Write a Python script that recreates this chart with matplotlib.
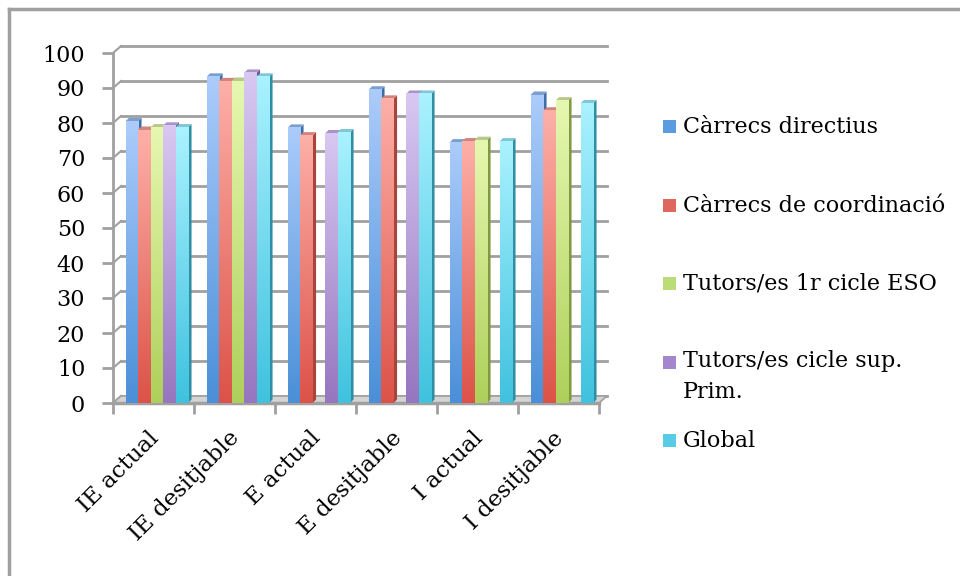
import numpy as np
import matplotlib
matplotlib.use("Agg")
import matplotlib.pyplot as plt
from matplotlib.colors import LinearSegmentedColormap
from matplotlib.patches import Polygon, Rectangle
from matplotlib.lines import Line2D
import matplotlib.transforms as mtransforms

plt.rcParams['font.family'] = ['DejaVu Serif']

categories = ["IE actual", "IE desitjable", "E actual", "E desitjable", "I actual", "I desitjable"]
series_names = ["Càrrecs directius", "Càrrecs de coordinació", "Tutors/es 1r cicle ESO",
                "Tutors/es cicle sup.\nPrim.", "Global"]

carrecs_directius = [80.5, 93.2, 78.6, 89.5, 74.4, 88.0]
carrecs_coordinacio = [78.0, 91.9, 76.4, 86.9, 74.7, 83.5]
tutors_eso = [78.7, 92.0, np.nan, np.nan, 75.1, 86.4]
tutors_primaria = [79.2, 94.3, 77.0, 88.3, np.nan, np.nan]
global_vals = [78.7, 93.2, 77.3, 88.3, 74.7, 85.6]

series_values = [carrecs_directius, carrecs_coordinacio, tutors_eso, tutors_primaria, global_vals]

# (light top, dark bottom, top face, side face, legend swatch)
palette = [
    ("#acccfb", "#4a8fd8", "#7c9fd0", "#3f6ea6", "#5b9be0"),
    ("#fdb0a8", "#dc5248", "#d2847c", "#a8443c", "#e0675e"),
    ("#e6f8b0", "#aed05a", "#b8c98a", "#7f9a40", "#bcdc78"),
    ("#d8c8f2", "#9676bf", "#a894c8", "#6e5592", "#a486cc"),
    ("#aaf2ff", "#3fc2de", "#80c6d4", "#2f8ea4", "#58cce6"),
]

W, H, DPI = 960, 576, 100
fig = plt.figure(figsize=(W / DPI, H / DPI), dpi=DPI)

x0px, x1px, y0px, y1px = 113, 599, 403, 53
ax = fig.add_axes([x0px / W, 1 - y0px / H, (x1px - x0px) / W, (y0px - y1px) / H])
ax.set_xlim(0, len(categories))
ax.set_ylim(0, 100)

px_x = len(categories) / (x1px - x0px)   # data units per pixel (x)
px_y = 100 / (y0px - y1px)               # data units per pixel (y)

grid_col = "#a0a0a0"
back_dx, back_dy = 8 * px_x, 7 * px_y

# back wall gridlines and connectors to the front axis
for v in range(0, 101, 10):
    ax.add_line(Line2D([back_dx, len(categories) + back_dx], [v + back_dy, v + back_dy],
                       color=grid_col, lw=2, clip_on=False, zorder=1))
    ax.add_line(Line2D([0, back_dx], [v, v + back_dy], color=grid_col, lw=1.5,
                       clip_on=False, zorder=1))

# floor
floor = Polygon([(0, 0), (len(categories), 0), (len(categories) + back_dx, back_dy),
                 (back_dx, back_dy)], closed=True, facecolor="#d4d4d4",
                edgecolor=grid_col, lw=1.2, clip_on=False, zorder=2)
ax.add_patch(floor)
ax.add_line(Line2D([0, len(categories)], [0, 0], color=grid_col, lw=2.5,
                   clip_on=False, zorder=2))
ax.add_line(Line2D([0, 0], [0, 100], color=grid_col, lw=2, clip_on=False, zorder=2))

bar_w = 12.5 * px_x
group_start = 0.155
side_dx, side_dy = 3.5 * px_x, 3.5 * px_y

grad = np.linspace(0, 1, 256).reshape(-1, 1)
for ci in range(len(categories)):
    for si, vals in enumerate(series_values):
        h = vals[ci]
        if np.isnan(h):
            continue
        top, bottom, topface, side, _ = palette[si]
        xl = ci + group_start + si * bar_w
        xr = xl + bar_w
        z = 3 + ci * 10 + si
        # side face
        ax.add_patch(Polygon([(xr, 0), (xr + side_dx, side_dy), (xr + side_dx, h + side_dy), (xr, h)],
                             closed=True, facecolor=side, edgecolor="none", zorder=z, clip_on=False))
        # top face
        ax.add_patch(Polygon([(xl, h), (xr, h), (xr + side_dx, h + side_dy), (xl + side_dx, h + side_dy)],
                             closed=True, facecolor=topface, edgecolor="none", zorder=z, clip_on=False))
        # front face with vertical gradient
        cmap = LinearSegmentedColormap.from_list("g%d" % si, [bottom, top])
        ax.imshow(grad, cmap=cmap, origin="lower", extent=(xl, xr, 0, h),
                  aspect="auto", interpolation="bilinear", zorder=z + 0.5, clip_on=False)

ax.set_xlim(0, len(categories))
ax.set_ylim(0, 100)
for s in ax.spines.values():
    s.set_visible(False)

ax.set_yticks(range(0, 101, 10))
ax.set_yticklabels([str(v) for v in range(0, 101, 10)], fontsize=16)
ax.set_xticks(range(0, len(categories) + 1))
ax.set_xticklabels([])
ax.tick_params(axis="y", length=8, width=2, color=grid_col, pad=12)
ax.tick_params(axis="x", length=8, width=2, color=grid_col)

# rotated category labels
for ci, name in enumerate(categories):
    offs = mtransforms.ScaledTranslation(-6 / DPI, -24 / DPI, fig.dpi_scale_trans)
    trans = mtransforms.blended_transform_factory(ax.transData, ax.transAxes) + offs
    ax.text(ci + 0.5, 0, name, transform=trans, rotation=45, rotation_mode="anchor",
            ha="right", va="top", fontsize=16.5)

# legend
legend_y = [126, 205, 283, 362, 440]
for si, name in enumerate(series_names):
    yc = legend_y[si]
    fig.patches.append(Rectangle((663 / W, 1 - (yc + 7) / H), 13 / W, 13 / H,
                                 transform=fig.transFigure, facecolor=palette[si][4],
                                 edgecolor="none"))
    if "\n" in name:
        fig.text(683 / W, 1 - (yc - 12) / H, name, fontsize=16, ha="left", va="top",
                 linespacing=1.55)
    else:
        fig.text(683 / W, 1 - (yc + 1) / H, name, fontsize=16, ha="left", va="center")

# chart border
fig.add_artist(Line2D([9 / W, 9 / W], [0, 1 - 9 / H], color="#a0a0a0", lw=2.5,
                      transform=fig.transFigure))
fig.add_artist(Line2D([9 / W, 1], [1 - 9 / H, 1 - 9 / H], color="#a0a0a0", lw=2.5,
                      transform=fig.transFigure))

fig.savefig("out.png", dpi=DPI)
